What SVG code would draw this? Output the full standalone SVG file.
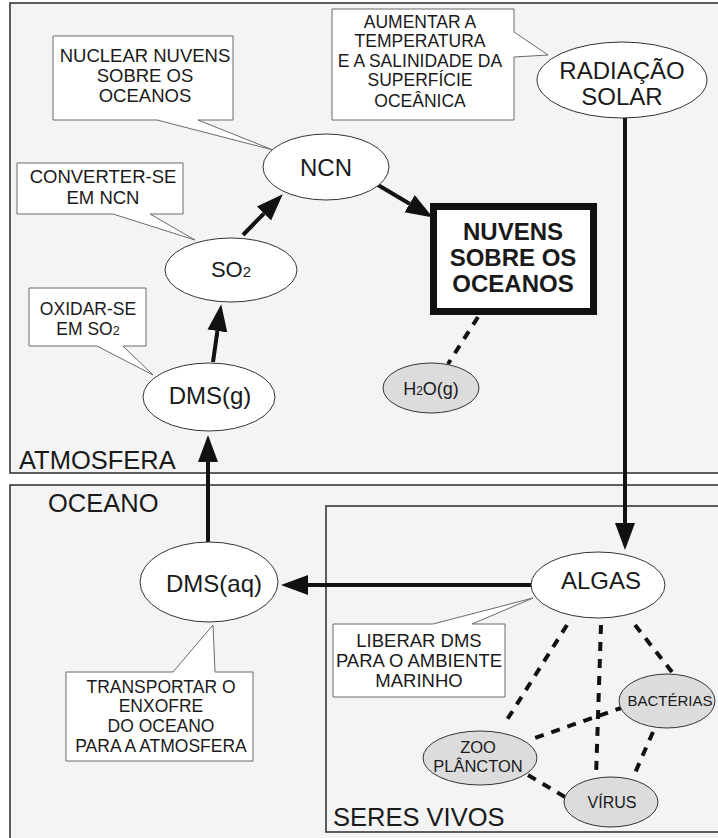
<svg xmlns="http://www.w3.org/2000/svg" width="718" height="838" viewBox="0 0 718 838">
<style>
.panel{fill:#f4f4f4;stroke:#2a2a2a;stroke-width:1.5}
.node{fill:#ffffff;stroke:#333;stroke-width:1}
.gnode{fill:#dcdcdc;stroke:#333;stroke-width:1}
.callout{fill:#ffffff;stroke:#6a6a6a;stroke-width:1}
text{font-family:"Liberation Sans",Arial,sans-serif;fill:#1a1a1a;text-anchor:middle}
.plabel{font-size:25.5px;text-anchor:start}
.big{font-size:24px}
.ct{font-size:18.5px}
.cs{font-size:17.5px}
.arrow{stroke:#111;stroke-width:4;fill:none;marker-end:url(#ah)}
.dash{stroke:#111;stroke-width:4;fill:none;stroke-dasharray:9 8}
</style>
<defs>
<marker id="ah" markerUnits="userSpaceOnUse" markerWidth="27" markerHeight="21" refX="0" refY="10" orient="auto" viewBox="0 0 27 21">
<path d="M0,0 L27,10 L0,20 Z" fill="#111"/>
</marker>
</defs>
<rect width="718" height="838" fill="#ffffff"/>
<g id="panels">
<rect class="panel" x="10" y="3" width="720" height="470"/>
<rect class="panel" x="10" y="485" width="720" height="360"/>
<rect class="panel" x="326" y="506" width="400" height="326"/>
<text class="plabel" x="19" y="469">ATMOSFERA</text>
<text class="plabel" x="48" y="512">OCEANO</text>
<text class="plabel" x="333" y="826">SERES VIVOS</text>
</g>
<g id="callouts">
<g id="c-nuclear">
<path class="callout" d="M53,36 H233 V120 H198 L273,150 L157,120 H53 Z"/>
<text class="ct" x="145" y="62">NUCLEAR NUVENS</text>
<text class="ct" x="145" y="82">SOBRE OS</text>
<text class="ct" x="145" y="102">OCEANOS</text>
</g>
<g id="c-converter">
<path class="callout" d="M17,163 H183 V214 H150 L195,240 L113,214 H17 Z"/>
<text class="ct" x="103" y="183">CONVERTER-SE</text>
<text class="ct" x="103" y="204">EM NCN</text>
</g>
<g id="c-aumentar">
<path class="callout" d="M332,9 H514 V32 L548,55 L514,57 V120 H332 Z"/>
<text class="cs" x="420" y="28">AUMENTAR A</text>
<text class="cs" x="420" y="47">TEMPERATURA</text>
<text class="cs" x="420" y="67">E A SALINIDADE DA</text>
<text class="cs" x="420" y="86">SUPERFÍCIE</text>
<text class="cs" x="420" y="107">OCEÂNICA</text>
</g>
<g id="c-oxidar">
<path class="callout" d="M29,288 H146 V346 H123 L153,375 L97,346 H29 Z"/>
<text class="cs" x="88" y="315">OXIDAR-SE</text>
<text class="cs" x="88" y="335">EM SO<tspan style="font-size:12.5px">2</tspan></text>
</g>
<g id="c-transportar">
<path class="callout" d="M66,672 H173 L213,625 L215,672 H253 V761 H66 Z"/>
<text class="cs" x="161" y="693">TRANSPORTAR O</text>
<text class="cs" x="161" y="712">ENXOFRE</text>
<text class="cs" x="161" y="732">DO OCEANO</text>
<text class="cs" x="161" y="752">PARA A ATMOSFERA</text>
</g>
<g id="c-liberar">
<path class="callout" d="M333,624 H433 L533,598 L472,624 H505 V697 H333 Z"/>
<text class="ct" x="419" y="647">LIBERAR DMS</text>
<text class="ct" x="419" y="667">PARA O AMBIENTE</text>
<text class="ct" x="419" y="687">MARINHO</text>
</g>
</g>
<g id="connectors">
<line class="arrow" x1="625" y1="118" x2="625" y2="523"/>
<line class="arrow" x1="532" y1="585" x2="308" y2="585"/>
<line class="arrow" x1="208" y1="542" x2="208" y2="462"/>
<line class="arrow" x1="213" y1="362" x2="217.4" y2="331"/>
<line class="arrow" x1="243" y1="235" x2="263.9" y2="213.6"/>
<line class="arrow" x1="378" y1="185" x2="409.6" y2="203.7"/>
<line class="dash" x1="478" y1="317" x2="448" y2="364"/>
<line class="dash" x1="567" y1="625" x2="505" y2="723"/>
<line class="dash" x1="601" y1="625" x2="596" y2="777"/>
<line class="dash" x1="635" y1="625" x2="672" y2="672"/>
<line class="dash" x1="624" y1="707" x2="529" y2="740"/>
<line class="dash" x1="653" y1="732" x2="635" y2="773"/>
<line class="dash" x1="528" y1="775" x2="565" y2="797"/>
</g>
<g id="n-ncn">
<ellipse class="node" cx="326" cy="167" rx="63" ry="33"/>
<text class="big" x="326" y="176">NCN</text>
</g>
<g id="n-solar">
<ellipse class="node" cx="622" cy="80" rx="85" ry="38"/>
<text class="big" x="622" y="79">RADIAÇÃO</text>
<text class="big" x="622" y="105">SOLAR</text>
</g>
<g id="n-so2">
<ellipse class="node" cx="231" cy="270" rx="66" ry="32"/>
<text x="231" y="277" style="font-size:22px">SO<tspan style="font-size:15px">2</tspan></text>
</g>
<g id="n-dmsg">
<ellipse class="node" cx="209" cy="397" rx="66" ry="34"/>
<text class="big" x="210" y="404">DMS(g)</text>
</g>
<g id="n-nuvens">
<rect x="433.5" y="206.5" width="160" height="105" fill="#ffffff" stroke="#111" stroke-width="7"/>
<text x="513" y="240" style="font-size:24px;font-weight:bold">NUVENS</text>
<text x="513" y="266" style="font-size:24px;font-weight:bold">SOBRE OS</text>
<text x="513" y="292" style="font-size:24px;font-weight:bold">OCEANOS</text>
</g>
<g id="n-h2o">
<ellipse class="gnode" cx="431" cy="388" rx="48" ry="25"/>
<text x="431" y="395" style="font-size:18px">H<tspan style="font-size:12px">2</tspan>O(g)</text>
</g>
<g id="n-dmsaq">
<ellipse class="node" cx="209" cy="582" rx="69" ry="40"/>
<text class="big" x="214" y="592">DMS(aq)</text>
</g>
<g id="n-algas">
<ellipse class="node" cx="598" cy="585" rx="67" ry="33"/>
<text class="big" x="601" y="589">ALGAS</text>
</g>
<g id="n-bacterias">
<ellipse class="gnode" cx="667" cy="701" rx="48" ry="27"/>
<text x="670" y="706" style="font-size:15px">BACTÉRIAS</text>
</g>
<g id="n-zoo">
<ellipse class="gnode" cx="480" cy="758" rx="57" ry="27"/>
<text x="478" y="753" style="font-size:16.5px">ZOO</text>
<text x="478" y="772" style="font-size:16.5px">PLÂNCTON</text>
</g>
<g id="n-virus">
<ellipse class="gnode" cx="611" cy="802" rx="47" ry="25"/>
<text x="612" y="808" style="font-size:16px">VÍRUS</text>
</g>
</svg>
